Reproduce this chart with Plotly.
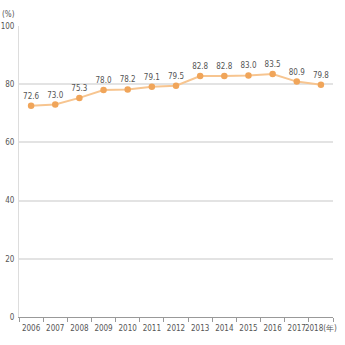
import plotly.graph_objects as go

years = ["2006", "2007", "2008", "2009", "2010", "2011", "2012", "2013", "2014", "2015", "2016", "2017", "2018"]
tick_labels = ["2006", "2007", "2008", "2009", "2010", "2011", "2012", "2013", "2014", "2015", "2016", "2017", "2018(年)"]
values = [72.6, 73.0, 75.3, 78.0, 78.2, 79.1, 79.5, 82.8, 82.8, 83.0, 83.5, 80.9, 79.8]
y_ticks = [0, 20, 40, 60, 80, 100]

font_fam = "DejaVu Sans Condensed, Liberation Sans Narrow, Roboto, sans-serif"

fig = go.Figure()
fig.add_trace(go.Scatter(
    x=years, y=values, mode="lines+markers+text",
    line=dict(color="#F7C590", width=2),
    marker=dict(color="#F0A55A", size=6.5),
    text=[f"{v:.1f}" for v in values], textposition="top center",
    textfont=dict(size=8, color="#555555", family=font_fam),
    cliponaxis=False, hoverinfo="skip"
))

fig.update_layout(
    width=345, height=345,
    margin=dict(l=19, r=12, t=26, b=28),
    paper_bgcolor="white", plot_bgcolor="white",
    showlegend=False,
    font=dict(family=font_fam, size=8, color="#555555"),
    xaxis=dict(
        type="category", tickvals=years, ticktext=tick_labels,
        tickson="boundaries", ticks="outside", ticklen=4, tickcolor="#999999",
        showgrid=False, showline=True, linecolor="#999999", linewidth=1,
        tickfont=dict(size=8, color="#555555", family=font_fam),
        tickangle=0, automargin=False, ticklabelstandoff=3,
        range=[-0.5, 12.5],
    ),
    yaxis=dict(
        range=[0, 100], tickvals=y_ticks, showgrid=True, gridcolor="#E3E3E3", gridwidth=1.5,
        showline=True, linecolor="#DDDDDD", zeroline=False, ticks="",
        tickfont=dict(size=8, color="#555555", family=font_fam),
        automargin=False, ticklabelstandoff=2,
    ),
    annotations=[dict(text="(%)", x=0, xref="paper", xanchor="right", xshift=-2,
                      y=100, yref="y", yshift=12, yanchor="middle", showarrow=False,
                      font=dict(size=8, color="#555555", family=font_fam))],
)

fig.write_html("out.html")
